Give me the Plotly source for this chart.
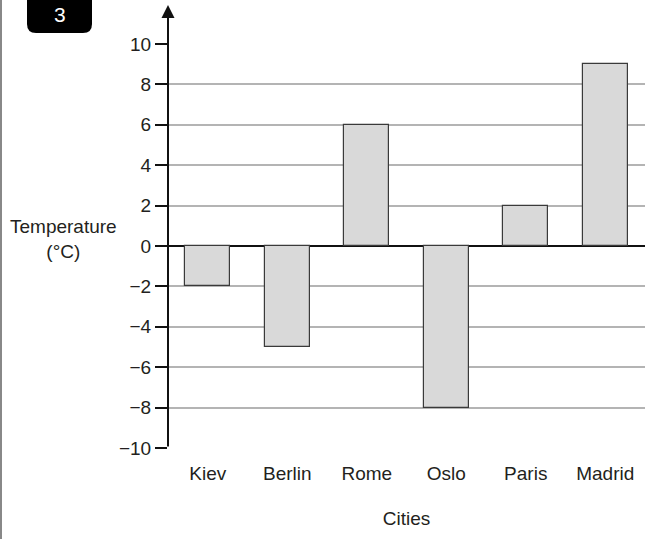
import plotly.graph_objects as go

cities = ["Kiev", "Berlin", "Rome", "Oslo", "Paris", "Madrid"]
temps = [-2, -5, 6, -8, 2, 9]
y_ticks = [-10, -8, -6, -4, -2, 0, 2, 4, 6, 8, 10]

FONT = "Liberation Sans, Arial, sans-serif"
TXT = "#231f20"
FS = 19

fig = go.Figure()
fig.add_trace(go.Bar(
    x=cities, y=temps, width=0.5625,
    marker=dict(color="#d9d9d9", line=dict(color="#3a3a3a", width=1.2)),
))

W, H = 661, 539
L, R, T, B = 168, 16, 44, 91
pw, ph = W - L - R, H - T - B

def px(x):
    return (x - L) / pw

def py(y):
    return (H - B - y) / ph

fig.update_layout(
    width=W, height=H,
    margin=dict(l=L, r=R, t=T, b=B, autoexpand=False),
    plot_bgcolor="white", paper_bgcolor="white",
    showlegend=False,
    font=dict(family=FONT, size=FS, color=TXT),
    bargap=0,
    xaxis=dict(
        range=[-0.5, 5.5], showgrid=False, showline=False, zeroline=False,
        automargin=False,
        ticks="outside", ticklen=8, tickcolor="rgba(0,0,0,0)",
        tickfont=dict(size=FS, color=TXT),
        title=dict(text="Cities", font=dict(size=FS, color=TXT), standoff=28),
    ),
    yaxis=dict(
        range=[-10, 10], tickvals=y_ticks, automargin=False,
        showgrid=True, gridcolor="#b4b4b4", gridwidth=1.5,
        zeroline=True, zerolinecolor="#111111", zerolinewidth=2,
        showline=False,
        ticks="outside", ticklen=12, tickwidth=2, tickcolor="#111111",
        tickfont=dict(size=FS, color=TXT),
    ),
)

# y-axis line with arrow
fig.add_annotation(
    x=0, xref="paper", y=py(5), yref="paper",
    ax=0, ay=(H - B) - 5, axref="pixel", ayref="pixel",
    text="", showarrow=True, arrowhead=2, arrowsize=1.3, arrowwidth=2,
    arrowcolor="#111111",
)

# y-axis title
fig.add_annotation(
    x=px(63), xref="paper", y=py(239), yref="paper",
    xanchor="center", yanchor="middle",
    text="Temperature<br>(°C)", showarrow=False,
    font=dict(size=FS, color=TXT), align="center",
)

# left page border
fig.add_shape(type="line", xref="paper", yref="paper",
              x0=px(1), x1=px(1), y0=py(H + 5), y1=py(-5),
              line=dict(color="#888888", width=2))

# black rounded box with "3"
x0, x1 = px(27), px(92)
ytop, ybot = py(-10), py(33)
rx, ry = 9 / pw, 9 / ph
path = (f"M {x0},{ytop} L {x0},{ybot + ry} Q {x0},{ybot} {x0 + rx},{ybot} "
        f"L {x1 - rx},{ybot} Q {x1},{ybot} {x1},{ybot + ry} L {x1},{ytop} Z")
fig.add_shape(type="path", xref="paper", yref="paper", path=path,
              fillcolor="black", line=dict(color="black", width=0))
fig.add_annotation(
    x=px(60), xref="paper", y=py(15), yref="paper",
    xanchor="center", yanchor="middle",
    text="3", showarrow=False, font=dict(size=21, color="white"),
)

fig.write_html("out.html", post_script="document.body.style.margin='0';",
               config={"displayModeBar": False})
